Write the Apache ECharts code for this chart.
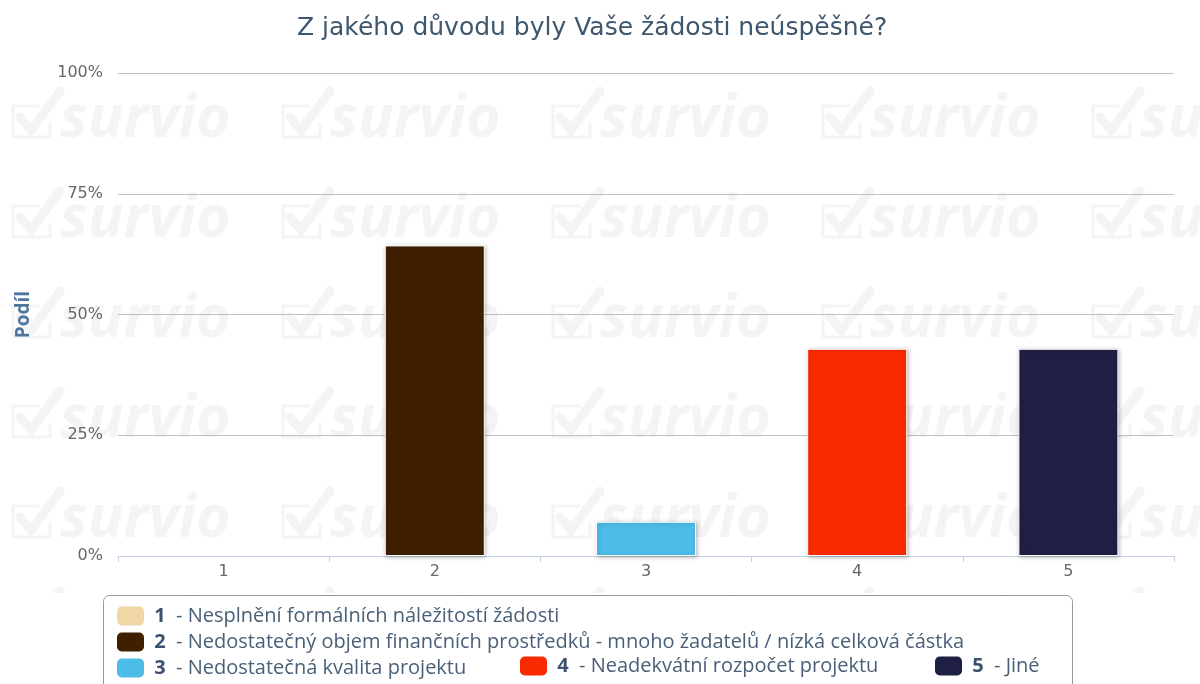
<!DOCTYPE html>
<html>
<head>
<meta charset="utf-8">
<script src="https://cdn.jsdelivr.net/npm/echarts@6/dist/echarts.min.js"></script>
<style>
  html, body { margin: 0; padding: 0; background: #fff; }
  #chart { width: 1200px; height: 684px; }
</style>
</head>
<body>
<div id="chart"></div>
<script>
// data
var categories = ['1', '2', '3', '4', '5'];
var labels = [
  'Nesplnění formálních náležitostí žádosti',
  'Nedostatečný objem finančních prostředků - mnoho žadatelů / nízká celková částka',
  'Nedostatečná kvalita projektu',
  'Neadekvátní rozpočet projektu',
  'Jiné'
];
var values = [0, 64.3, 7.1, 42.9, 42.9];
var colors = ['#f0d8a6', '#3f1f00', '#4dbce9', '#fa2a00', '#1f1f45'];
var yTicks = [0, 25, 50, 75, 100];

// watermark tile (survio logo)
function watermark() {
  var c = document.createElement('canvas');
  c.width = 270; c.height = 100;
  var ctx = c.getContext('2d');
  ctx.fillStyle = '#fff';
  ctx.fillRect(0, 0, 270, 100);
  [37, 137].forEach(function (base) {
    ctx.strokeStyle = '#f4f4f4';
    ctx.lineWidth = 3;
    ctx.beginPath();
    ctx.moveTo(40, base - 31);
    ctx.lineTo(13, base - 31);
    ctx.lineTo(13, base);
    ctx.lineTo(50, base);
    ctx.lineTo(50, base - 14);
    ctx.stroke();
    ctx.lineWidth = 9;
    ctx.lineCap = 'round';
    ctx.beginPath();
    ctx.moveTo(20, base - 20);
    ctx.lineTo(31, base - 7);
    ctx.lineTo(60, base - 46);
    ctx.stroke();
    ctx.fillStyle = '#f4f4f4';
    ctx.font = 'italic bold 59px "Open Sans"';
    ctx.fillText('survio', 60, base);
  });
  return c;
}

var myChart = echarts.init(document.getElementById('chart'));

var series = categories.map(function (c, i) {
  return {
    name: c,
    type: 'bar',
    stack: 'all',
    barWidth: 100,
    itemStyle: {
      color: colors[i],
      borderColor: '#fff',
      borderWidth: 1,
      shadowColor: 'rgba(0,0,0,0.25)',
      shadowBlur: 4,
      shadowOffsetX: 1,
      shadowOffsetY: 1
    },
    data: categories.map(function (d, j) {
      if (j !== i) return '-';
      if (values[i] === 0) return { value: 0, itemStyle: { borderWidth: 0, shadowBlur: 0, shadowOffsetX: 0, shadowOffsetY: 0 } };
      return values[i];
    })
  };
});

var legendText = {
  fontFamily: 'Open Sans',
  fontSize: 20,
  color: '#4a6078',
  lineHeight: 18,
  rich: {
    n: { fontFamily: 'Open Sans', fontWeight: 'bold', fontSize: 20, color: '#3b5370', lineHeight: 18 },
    t: { fontFamily: 'Open Sans', fontSize: 20, color: '#4a6078', lineHeight: 18 }
  }
};
function legendFmt(name) {
  return ' {n|' + name + '}  {t|- ' + labels[categories.indexOf(name)] + '}';
}
function legendPart(names, left, top, orient) {
  return {
    data: names,
    orient: orient,
    left: left,
    top: top,
    itemWidth: 27,
    itemHeight: 19,
    itemGap: 6,
    icon: 'roundRect',
    itemStyle: { borderWidth: 0, shadowBlur: 0, shadowOffsetX: 0, shadowOffsetY: 0 },
    padding: 0,
    selectedMode: false,
    formatter: legendFmt,
    textStyle: legendText
  };
}

var option = {
  title: {
    text: 'Z jakého důvodu byly Vaše žádosti neúspěšné?',
    left: 292,
    top: 11,
    textStyle: { fontFamily: 'DejaVu Sans', fontSize: 25, fontWeight: 'normal', color: '#3e576f' }
  },
  grid: { left: 118, right: 26, top: 73, bottom: 128 },
  xAxis: {
    type: 'category',
    data: categories,
    axisLine: { lineStyle: { color: '#c0d0e0', width: 1 } },
    axisTick: { show: true, length: 6, lineStyle: { color: '#c0d0e0' } },
    axisLabel: { color: '#666', fontSize: 16, fontFamily: 'DejaVu Sans', margin: 8 },
    splitLine: { show: false }
  },
  yAxis: {
    type: 'value',
    min: yTicks[0],
    max: yTicks[yTicks.length - 1],
    interval: 25,
    name: 'Podíl',
    nameLocation: 'middle',
    nameRotate: 90,
    nameGap: 85,
    nameTextStyle: { fontFamily: 'Open Sans', fontWeight: 'bold', fontSize: 19, color: '#4d759e' },
    axisLabel: { formatter: '{value}%', color: '#666', fontSize: 16, fontFamily: 'DejaVu Sans', margin: 15 },
    axisLine: { show: false },
    axisTick: { show: false },
    splitLine: { lineStyle: { color: '#c0c0c0', width: 1 } }
  },
  legend: [
    legendPart(['1', '2', '3'], 117, 606, 'vertical'),
    legendPart(['4'], 520, 656, 'horizontal'),
    legendPart(['5'], 935, 656, 'horizontal')
  ],
  graphic: [{
    type: 'rect',
    z: -10,
    silent: true,
    shape: { x: 0, y: 45, width: 1200, height: 548 },
    style: { fill: { image: watermark(), repeat: 'repeat' } }
  }, {
    type: 'rect',
    z: -1,
    silent: true,
    shape: { x: 103.5, y: 595.5, width: 969, height: 110, r: 6 },
    style: { fill: '#fff', stroke: '#999', lineWidth: 1 }
  }],
  series: series
};
myChart.setOption(option);
</script>
</body>
</html>
